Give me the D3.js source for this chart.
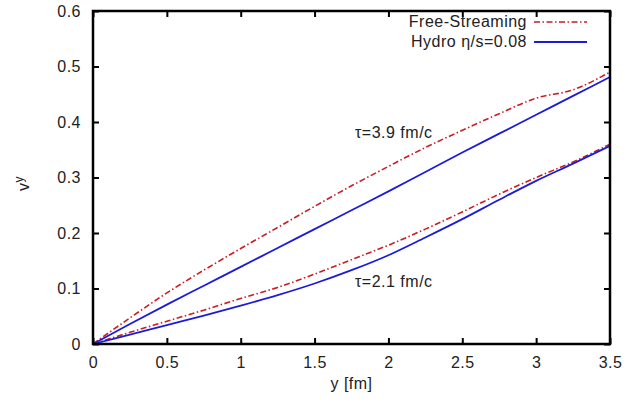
<!DOCTYPE html>
<html>
<head>
<meta charset="utf-8">
<script src="https://cdn.jsdelivr.net/npm/d3@7"></script>
<style>
  body { margin: 0; background: #fff; }
  text { font-family: "Liberation Sans", Arial, sans-serif; fill: #222; letter-spacing: 0.5px; }
</style>
</head>
<body>
<svg id="svg_flow" width="641" height="405"></svg>
<script>
// rapidity grid (fm) and v^y values
const yGrid = [0, 0.25, 0.5, 0.75, 1, 1.25, 1.5, 1.75, 2, 2.25, 2.5, 2.75, 3, 3.25, 3.5]
const freeStream39 = [0, 0.047, 0.092, 0.133, 0.172, 0.21, 0.248, 0.285, 0.32, 0.354, 0.385, 0.415, 0.443, 0.458, 0.49]
const hydro39 = [0, 0.036, 0.071, 0.105, 0.139, 0.173, 0.207, 0.241, 0.275, 0.31, 0.345, 0.379, 0.413, 0.447, 0.481]
const freeStream21 = [0, 0.021, 0.041, 0.061, 0.082, 0.102, 0.126, 0.152, 0.178, 0.207, 0.238, 0.27, 0.3, 0.328, 0.36]
const hydro21 = [0, 0.017, 0.034, 0.051, 0.069, 0.088, 0.109, 0.133, 0.16, 0.192, 0.225, 0.26, 0.294, 0.325, 0.357]

const xTicks = [0, 0.5, 1, 1.5, 2, 2.5, 3, 3.5]
const yTicks = [0, 0.1, 0.2, 0.3, 0.4, 0.5, 0.6]
const legendNames = ['Free-Streaming', 'Hydro \u03b7/s=0.08']

const svg = d3.select('#svg_flow')

const margin = { top: 11, right: 31, bottom: 61, left: 93 }
const width = 641 - (margin.left + margin.right)
const height = 405 - (margin.top + margin.bottom)

const x = d3.scaleLinear().domain([0, 3.5]).range([margin.left, margin.left + width])
const y = d3.scaleLinear().domain([0, 0.6]).range([margin.top + height, margin.top])

const red = '#c81e24'
const blue = '#1c1cd6'
const redDash = '6,2.5,1.5,2.5'
const fontSize = 16

const line = d3.line()
  .x(d => x(d[0]))
  .y(d => y(d[1]))
  .curve(d3.curveMonotoneX)

const series = [
  { values: freeStream39, color: red, dash: redDash },
  { values: hydro39, color: blue, dash: null },
  { values: freeStream21, color: red, dash: redDash },
  { values: hydro21, color: blue, dash: null },
]

svg.append('g')
  .selectAll('path')
  .data(series)
  .enter()
  .append('path')
  .attr('d', s => line(yGrid.map((g, i) => [g, s.values[i]])))
  .attr('fill', 'none')
  .attr('stroke', s => s.color)
  .attr('stroke-width', s => s.dash ? 1.6 : 1.8)
  .attr('stroke-dasharray', s => s.dash)

// axes with inward ticks on all four sides
const tickLen = 6
svg.append('g')
  .attr('transform', `translate(0, ${margin.top + height})`)
  .call(d3.axisBottom(x).tickValues(xTicks).tickSizeInner(-tickLen).tickSizeOuter(0).tickPadding(13).tickFormat(d3.format('')))
svg.append('g')
  .attr('transform', `translate(0, ${margin.top})`)
  .call(d3.axisTop(x).tickValues(xTicks).tickSizeInner(-tickLen).tickSizeOuter(0).tickFormat(''))
svg.append('g')
  .attr('transform', `translate(${margin.left}, 0)`)
  .call(d3.axisLeft(y).tickValues(yTicks).tickSizeInner(-tickLen).tickSizeOuter(0).tickPadding(12).tickFormat(d3.format('')))
svg.append('g')
  .attr('transform', `translate(${margin.left + width}, 0)`)
  .call(d3.axisRight(y).tickValues(yTicks).tickSizeInner(-tickLen).tickSizeOuter(0).tickFormat(''))

svg.selectAll('.domain').remove()
svg.selectAll('.tick line').attr('stroke', '#000').attr('stroke-width', 2)
svg.selectAll('.tick text').attr('font-size', fontSize).attr('font-family', '"Liberation Sans", Arial, sans-serif').attr('fill', '#222')

svg.append('rect')
  .attr('x', margin.left)
  .attr('y', margin.top)
  .attr('width', width)
  .attr('height', height)
  .attr('fill', 'none')
  .attr('stroke', '#000')
  .attr('stroke-width', 2.5)

// axis titles
svg.append('text')
  .attr('x', x(1.75))
  .attr('y', 389)
  .attr('text-anchor', 'middle')
  .attr('font-size', fontSize)
  .text('y [fm]')

const yLabel = svg.append('text')
  .attr('transform', `translate(29, ${y(0.3) + 6}) rotate(-90)`)
  .attr('text-anchor', 'middle')
  .attr('font-size', fontSize)
yLabel.append('tspan').text('v')
yLabel.append('tspan').attr('font-size', 12).attr('dy', -6).text('y')

// curve annotations
svg.append('text').attr('x', 355).attr('y', 138).attr('font-size', fontSize).text('\u03c4=3.9 fm/c')
svg.append('text').attr('x', 355).attr('y', 287).attr('font-size', fontSize).text('\u03c4=2.1 fm/c')

// legend
const legend = svg.append('g')
legend.selectAll('text')
  .data(legendNames)
  .enter()
  .append('text')
  .attr('x', 527)
  .attr('y', (d, i) => 27 + i * 20)
  .attr('text-anchor', 'end')
  .attr('font-size', fontSize)
  .text(d => d)
legend.selectAll('line')
  .data([series[0], series[1]])
  .enter()
  .append('line')
  .attr('x1', 534)
  .attr('x2', 587)
  .attr('y1', (d, i) => 22 + i * 20)
  .attr('y2', (d, i) => 22 + i * 20)
  .attr('stroke', d => d.color)
  .attr('stroke-width', d => d.dash ? 1.6 : 1.8)
  .attr('stroke-dasharray', d => d.dash)
</script>
</body>
</html>
